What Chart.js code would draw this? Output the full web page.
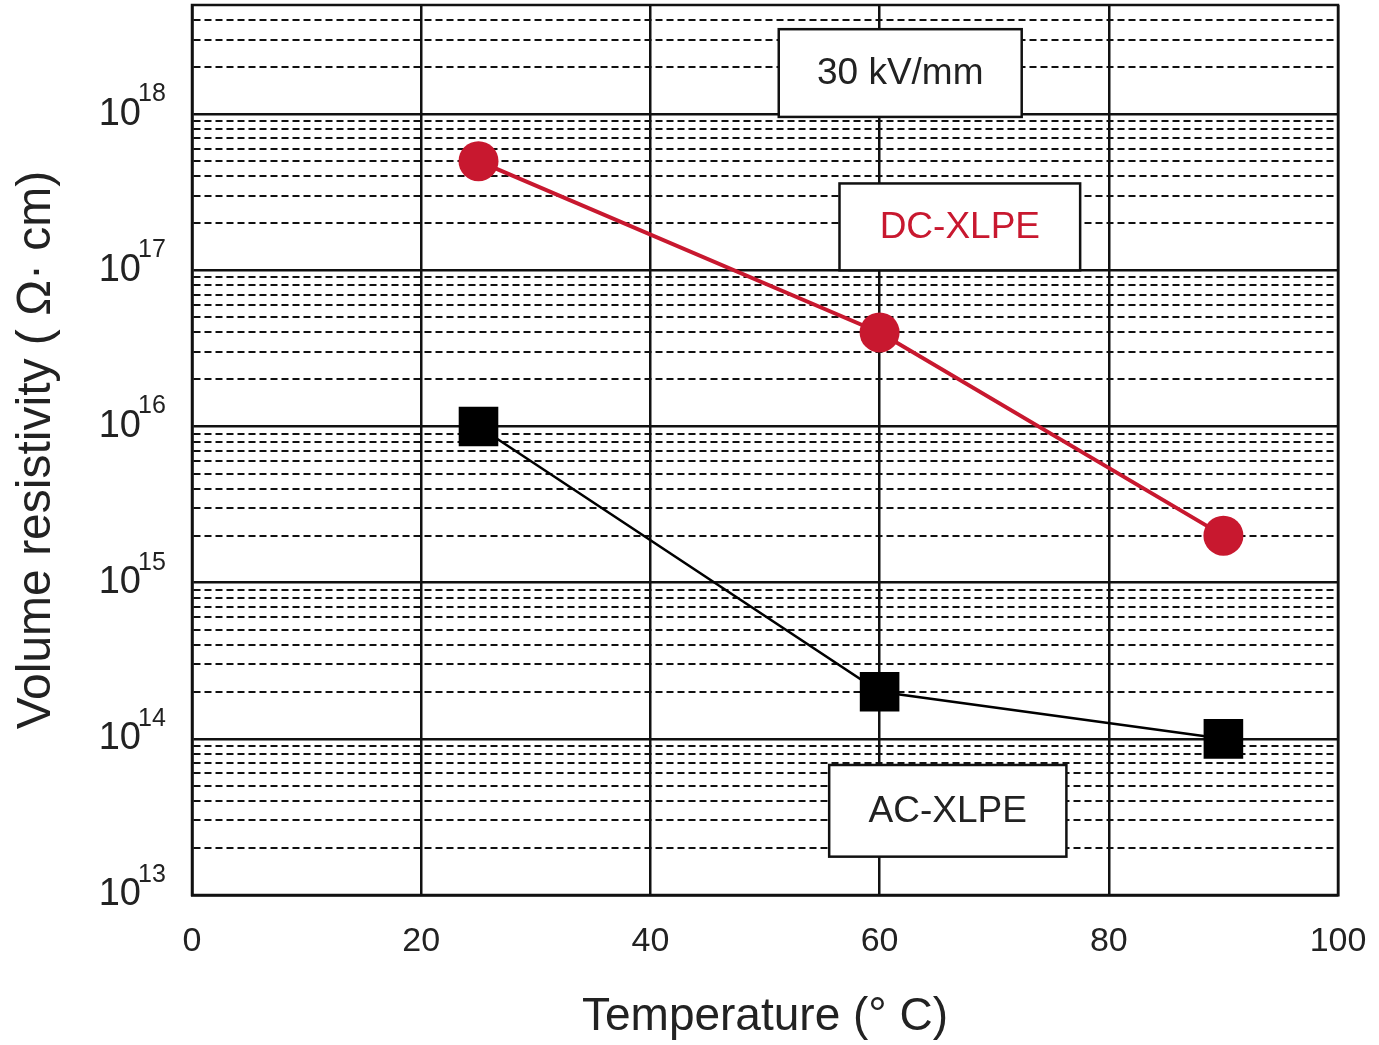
<!DOCTYPE html>
<html>
<head>
<meta charset="utf-8">
<script src="https://cdn.jsdelivr.net/npm/chart.js@4"></script>
<style>
  html, body { margin: 0; padding: 0; background: #fff; }
  #wrap { width: 1379px; height: 1045px; }
</style>
</head>
<body>
<div id="wrap"><canvas id="chart" width="1379" height="1045"></canvas></div>
<script>
const temperatures = [25, 60, 90];
const dcXlpe = [5e17, 4e16, 2e15];
const acXlpe = [1e16, 2e14, 1e14];

const xTicks = [0, 20, 40, 60, 80, 100];
const decades = [13, 14, 15, 16, 17, 18];
const yMin = 1e13;
const yMax = 5e18;

// text boxes, corners in data units
const boxes = [
  { text: "30 kV/mm", color: "#222", x0: 51.2, x1: 72.4, y0: 3.5e18, y1: 9.6e17 },
  { text: "DC-XLPE", color: "#c8182f", x0: 56.5, x1: 77.5, y0: 3.6e17, y1: 1e17 },
  { text: "AC-XLPE", color: "#222", x0: 55.6, x1: 76.3, y0: 6.8e13, y1: 1.76e13 },
];

const FONT = "'Liberation Sans', Arial, sans-serif";

const toPoints = (ys) => temperatures.map((t, i) => ({ x: t, y: ys[i] }));

function isDecade(v) {
  const l = Math.log10(v);
  return Math.abs(l - Math.round(l)) < 1e-6;
}

const extras = {
  id: "extras",
  beforeDatasetsDraw(chart) {
    const { ctx, scales: { x, y } } = chart;
    ctx.save();
    ctx.font = "37px " + FONT;
    ctx.textAlign = "center";
    ctx.textBaseline = "middle";
    boxes.forEach((b) => {
      const l = x.getPixelForValue(b.x0), r = x.getPixelForValue(b.x1);
      const t = y.getPixelForValue(b.y0), btm = y.getPixelForValue(b.y1);
      ctx.fillStyle = "#fff";
      ctx.fillRect(l, t, r - l, btm - t);
      ctx.lineWidth = 2.5;
      ctx.strokeStyle = "#111";
      ctx.strokeRect(l, t, r - l, btm - t);
      ctx.fillStyle = b.color;
      ctx.fillText(b.text, (l + r) / 2, (t + btm) / 2 + 1);
    });
    ctx.restore();
  },
  afterDraw(chart) {
    const { ctx, chartArea: a, scales: { y } } = chart;
    ctx.save();
    ctx.lineWidth = 2.5;
    ctx.strokeStyle = "#111";
    ctx.strokeRect(a.left, a.top, a.right - a.left, a.bottom - a.top);
    // y tick labels 10^n
    ctx.fillStyle = "#222";
    ctx.textBaseline = "middle";
    decades.forEach((d) => {
      const py = y.getPixelForValue(Math.pow(10, d));
      ctx.font = "38px " + FONT;
      ctx.textAlign = "right";
      ctx.fillText("10", 141, py);
      ctx.font = "25px " + FONT;
      ctx.textAlign = "left";
      ctx.fillText(String(d), 138, py - 20);
    });
    ctx.restore();
  },
};

const yTickValues = [];
decades.forEach((d) => {
  for (let m = 1; m <= 9; m++) {
    const v = m * Math.pow(10, d);
    if (v >= yMin && v < yMax) yTickValues.push(v);
  }
});

new Chart(document.getElementById("chart"), {
  type: "line",
  data: {
    datasets: [
      {
        label: "DC-XLPE",
        data: toPoints(dcXlpe),
        borderColor: "#c8182f",
        backgroundColor: "#c8182f",
        borderWidth: 4,
        pointStyle: "circle",
        pointRadius: 20,
        pointBorderWidth: 0,
        tension: 0,
      },
      {
        label: "AC-XLPE",
        data: toPoints(acXlpe),
        borderColor: "#000",
        backgroundColor: "#000",
        borderWidth: 2.5,
        pointStyle: "rect",
        pointRadius: 28,
        pointBorderWidth: 0,
        tension: 0,
      },
    ],
  },
  options: {
    responsive: false,
    animation: false,
    layout: { autoPadding: false, padding: { top: 5, right: 41, left: 0, bottom: 0 } },
    plugins: {
      legend: { display: false },
      tooltip: { enabled: false },
    },
    scales: {
      x: {
        type: "linear",
        min: 0,
        max: 100,
        afterBuildTicks: (scale) => {
          scale.ticks = xTicks.map((v) => ({ value: v }));
        },
        afterFit: (scale) => {
          scale.height = 150;
          scale.paddingLeft = 0;
          scale.paddingRight = 0;
        },
        grid: { color: "#111", lineWidth: 2.5, drawTicks: false },
        border: { color: "#111", width: 2.5 },
        ticks: {
          color: "#222",
          font: { family: FONT, size: 34 },
          padding: 26,
          maxRotation: 0,
        },
        title: {
          display: true,
          text: "Temperature (° C)",
          color: "#222",
          font: { family: FONT, size: 46 },
          padding: { top: 0, bottom: 0 },
        },
      },
      y: {
        type: "logarithmic",
        min: yMin,
        max: yMax,
        afterBuildTicks: (scale) => {
          scale.ticks = yTickValues.map((v) => ({ value: v }));
        },
        afterFit: (scale) => {
          scale.width = 192;
          scale.paddingTop = 0;
          scale.paddingBottom = 0;
        },
        grid: {
          drawTicks: false,
          color: "#111",
          lineWidth: (c) => (c.tick && isDecade(c.tick.value) ? 2.5 : 2),
        },
        border: {
          color: "#111",
          width: 2.5,
          dash: (c) => (c.tick && !isDecade(c.tick.value) ? [7, 4] : []),
        },
        ticks: {
          autoSkip: false,
          font: { size: 1 },
          callback: () => "",
        },
        title: {
          display: true,
          text: "Volume resistivity ( Ω· cm)",
          color: "#222",
          font: { family: FONT, size: 48 },
          padding: { top: 8, bottom: 0 },
        },
      },
    },
  },
  plugins: [extras],
});
</script>
</body>
</html>
